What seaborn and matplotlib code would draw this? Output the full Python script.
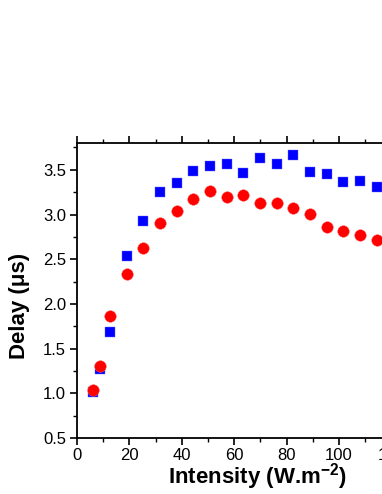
import matplotlib
matplotlib.use("Agg")
import matplotlib.pyplot as plt
import seaborn as sns
import pandas as pd
from matplotlib.ticker import MultipleLocator

intensity = [6.2, 8.8, 12.6, 19.0, 25.3, 31.7, 38.1, 44.4, 50.8, 57.1, 63.5,
             69.8, 76.2, 82.6, 88.9, 95.3, 101.6, 108.0, 114.4]
delay_blue = [1.02, 1.27, 1.69, 2.54, 2.93, 3.25, 3.35, 3.49, 3.54, 3.57, 3.46,
              3.63, 3.57, 3.67, 3.48, 3.45, 3.36, 3.38, 3.31]
delay_red = [1.04, 1.31, 1.86, 2.33, 2.62, 2.90, 3.04, 3.17, 3.26, 3.20, 3.22,
             3.13, 3.13, 3.07, 3.01, 2.86, 2.82, 2.77, 2.71]
xticks = [0, 20, 40, 60, 80, 100, 120]
yticks = [0.5, 1.0, 1.5, 2.0, 2.5, 3.0, 3.5]

sns.set_style("white")
plt.rcParams['font.family'] = ['Liberation Sans', 'DejaVu Sans']
plt.rcParams['text.color'] = 'black'
plt.rcParams['axes.labelcolor'] = 'black'
plt.rcParams['xtick.color'] = 'black'
plt.rcParams['ytick.color'] = 'black'
plt.rcParams['mathtext.fontset'] = 'custom'
plt.rcParams['mathtext.rm'] = 'Liberation Sans'
plt.rcParams['mathtext.bf'] = 'Liberation Sans:bold'

df_b = pd.DataFrame({"x": intensity, "y": delay_blue})
df_r = pd.DataFrame({"x": intensity, "y": delay_red})

fig = plt.figure(figsize=(3.82, 4.94), dpi=100)
ax_w_px = 137 * 2.62
ax = fig.add_axes([77/382, 1 - 438/494, ax_w_px/382, (438-143)/494])

sns.scatterplot(data=df_b, x="x", y="y", ax=ax, marker="s", s=55,
                color="#0000FF", edgecolor="#6666ff", linewidth=0.3, zorder=3)
sns.scatterplot(data=df_r, x="x", y="y", ax=ax, marker="o", s=70,
                color="#FF0000", edgecolor="#ff6666", linewidth=0.3, zorder=4)

ax.set_xlim(0, 137)
ax.set_ylim(0.5, 3.8)
ax.set_xticks(xticks)
ax.set_yticks(yticks)
ax.set_xticklabels([str(t) for t in xticks])
ax.set_yticklabels([f"{t:.1f}" for t in yticks])
ax.xaxis.set_minor_locator(MultipleLocator(10))
ax.yaxis.set_minor_locator(MultipleLocator(0.25))

for s in ax.spines.values():
    s.set_linewidth(1.3)
    s.set_color("black")

ax.tick_params(axis="both", which="major", direction="out", length=5, width=1.2,
               labelsize=12, color="black", labelcolor="black",
               top=True, bottom=True, left=True, pad=3)
ax.tick_params(axis="x", which="major", pad=2)
ax.tick_params(axis="both", which="minor", direction="out", length=3, width=1.0,
               color="black", top=True, bottom=True, left=True)
ax.tick_params(axis="x", which="both", labeltop=False)

ax.set_xlabel("Intensity (W.m$^{\\mathbf{-2}}$)", fontsize=16, fontweight="bold")
ax.set_ylabel("Delay (\u03bcs)", fontsize=16, fontweight="bold")
ax.grid(False)

# place labels in figure pixel coordinates to match the reference
ax.xaxis.set_label_coords(257/382, 1 - 483/494, transform=fig.transFigure)
ax.yaxis.set_label_coords(20/382, 1 - 306/494, transform=fig.transFigure)
ax.xaxis.label.set_va("baseline")
ax.yaxis.label.set_va("center")

fig.savefig("out.png", dpi=100)
